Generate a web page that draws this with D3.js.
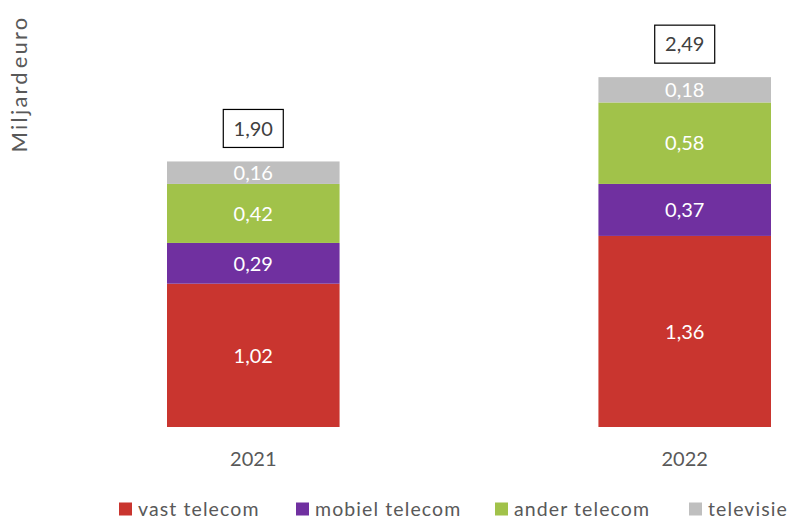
<!DOCTYPE html>
<html><head><meta charset="utf-8">
<script src="https://cdn.jsdelivr.net/npm/d3@7"></script>
<style>body{margin:0;background:#fff}svg{display:block}text{font-family:Lato,"Open Sans",sans-serif}</style>
</head><body>
<svg id="c" width="788" height="520"></svg>
<script>
const years = ["2021", "2022"];
const seriesNames = ["vast telecom", "mobiel telecom", "ander telecom", "televisie"];
const seriesColors = ["#C9352F", "#7030A0", "#A1C24A", "#BFBFBF"];
const vastTelecom = [1.02, 1.36];
const mobielTelecom = [0.29, 0.37];
const anderTelecom = [0.42, 0.58];
const televisie = [0.16, 0.18];
const totals = [1.90, 2.49];
const yTitle = "Miljard euro";

(function () {
const svg = d3.select("#c");
const fmt = v => d3.format(".2f")(v).replace(".", ",");
const seriesVals = [vastTelecom, mobielTelecom, anderTelecom, televisie];
const rows = years.map((yr, i) => {
  const r = {year: yr};
  seriesNames.forEach((s, k) => r[s] = seriesVals[k][i]);
  return r;
});
const stack = d3.stack().keys(seriesNames)(rows);

const x = d3.scaleBand().domain(years).range([167, 771]).paddingInner(0.6).paddingOuter(0);
const y = d3.scaleLinear().domain([0, 2.5]).range([427, 75.75]);

const g = svg.append("g");
stack.forEach((layer, k) => {
  const lg = g.append("g");
  lg.selectAll("rect").data(layer).join("rect")
    .attr("x", d => x(d.data.year)).attr("width", x.bandwidth())
    .attr("y", d => y(d[1])).attr("height", d => y(d[0]) - y(d[1]))
    .attr("fill", seriesColors[k]);
  lg.selectAll("text").data(layer).join("text")
    .attr("x", d => x(d.data.year) + x.bandwidth() / 2)
    .attr("y", d => (y(d[0]) + y(d[1])) / 2)
    .attr("dy", "0.36em").attr("text-anchor", "middle")
    .attr("fill", "#fff").attr("font-size", 20)
    .text(d => fmt(d[1] - d[0]));
});

// totals boxes
const topLayer = stack[stack.length - 1];
years.forEach((yr, i) => {
  const cx = x(yr) + x.bandwidth() / 2;
  const cy = y(topLayer[i][1]) - 33;
  svg.append("rect").attr("x", cx - 30).attr("y", cy - 19).attr("width", 60).attr("height", 38)
    .attr("fill", "#fff").attr("stroke", "#000").attr("stroke-width", 1.2);
  svg.append("text").attr("x", cx).attr("y", cy).attr("dy", "0.36em").attr("text-anchor", "middle")
    .attr("fill", "#404040").attr("font-size", 20).text(fmt(totals[i]));
});

// x axis labels
const xa = svg.append("g").attr("transform", "translate(0,427)")
  .call(d3.axisBottom(x).tickSize(0).tickPadding(25));
xa.select(".domain").remove();
xa.selectAll("text").attr("font-size", 20).attr("fill", "#595959").style("font-family", "Lato,'Open Sans',sans-serif");

// y title
svg.append("text").attr("transform", "translate(27,84) rotate(-90)")
  .attr("text-anchor", "middle").attr("fill", "#595959").attr("font-size", 22)
  .attr("letter-spacing", 2.2).attr("word-spacing", -6).text(yTitle);

// legend
const legX = [119, 296, 495, 689];
seriesNames.forEach((s, k) => {
  const lg = svg.append("g").attr("transform", `translate(${legX[k]},509)`);
  lg.append("rect").attr("x", 0).attr("y", -6.5).attr("width", 13).attr("height", 13).attr("fill", seriesColors[k]);
  lg.append("text").attr("x", 19).attr("y", 0).attr("dy", "0.35em").attr("fill", "#595959")
    .attr("font-size", 19.5).attr("letter-spacing", 1.1).text(s);
});
})();
</script>
</body></html>
